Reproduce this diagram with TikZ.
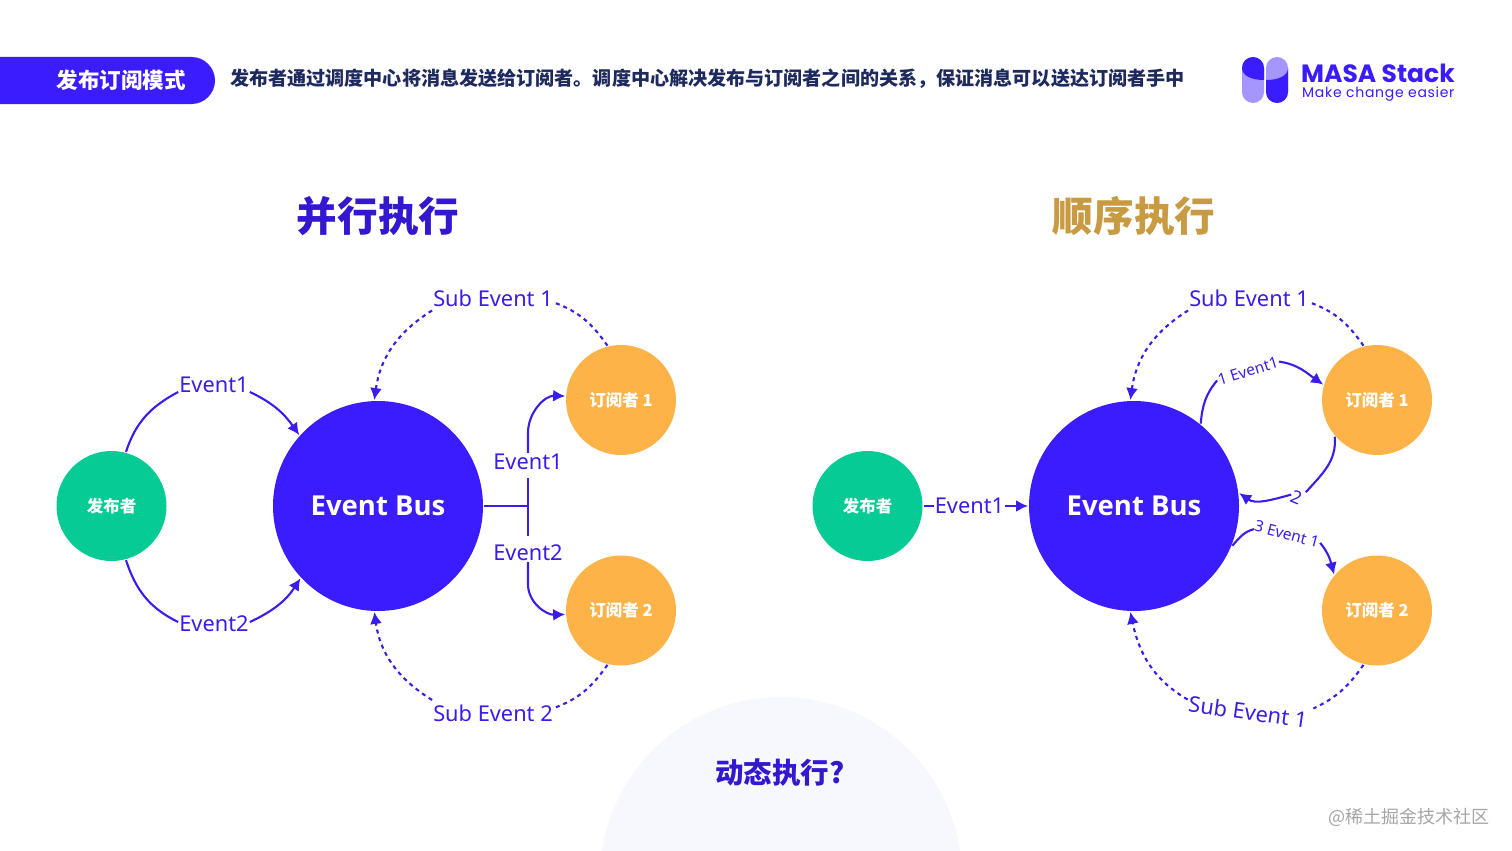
\documentclass[tikz,border=0pt]{standalone}
\usepackage{fontspec}
\setmainfont{Noto Sans}
\newfontfamily\cjk{Noto Sans CJK SC}
\newfontfamily\logofont{Poppins}
\newfontfamily\logotagfont[LetterSpace=5]{Poppins}
\newfontfamily\busfont{Open Sans}
\usetikzlibrary{arrows.meta}
\definecolor{busblue}{HTML}{3A1CFF}
\definecolor{lineblue}{HTML}{3A1CEB}
\definecolor{pubgreen}{HTML}{06CB94}
\definecolor{suborange}{HTML}{FDB347}
\definecolor{titleblue}{HTML}{3318CF}
\definecolor{titlegold}{HTML}{C89A42}
\definecolor{navy}{HTML}{1E2A5E}
\definecolor{paleback}{HTML}{F6F8FD}
\definecolor{logolight}{HTML}{A595FF}
\tikzset{
  x=1pt,y=-1pt,
  busnode/.style={circle,fill=busblue,minimum size=210pt,inner sep=0pt,outer sep=1pt,text=white,font=\busfont\fontsize{27.5}{30}\selectfont\bfseries},
  pubnode/.style={circle,fill=pubgreen,minimum size=110pt,inner sep=0pt,outer sep=1pt,text=white,font=\cjk\fontsize{16.5}{18}\selectfont\bfseries},
  subnode/.style={circle,fill=suborange,minimum size=110pt,inner sep=0pt,outer sep=1pt,text=white,font=\cjk\fontsize{16.5}{18}\selectfont\bfseries},
  lbl/.style={text=lineblue,inner sep=1pt,font=\fontsize{21.8}{24}\selectfont},
  smalllbl/.style={text=lineblue,inner sep=1pt,font=\fontsize{15.5}{17}\selectfont},
  conn/.style={draw=lineblue,line width=2.1pt},
  arr/.style={conn,-{Latex[length=12pt,width=12pt]}},
  dashconn/.style={conn,dash pattern=on 4pt off 4pt},
  dasharr/.style={arr,dash pattern=on 4pt off 4pt},
  titletext/.style={font=\cjk\fontsize{40.6}{42}\selectfont\bfseries},
}
\begin{document}
\begin{tikzpicture}
\useasboundingbox (0,0) rectangle (1512,851);
\fill[white] (0,0) rectangle (1512,851);
% bottom pale disc
\begin{scope}
\clip (0,0) rectangle (1512,851);
\fill[paleback] (781,878) circle[radius=181];
\end{scope}
% banner
\fill[busblue] (0,57) -- (191.5,57) arc[start angle=-90,end angle=90,radius=23.5] -- (0,104) -- cycle;
\node[text=white,font=\cjk\fontsize{21.5}{23}\selectfont\bfseries] (banner) at (121,80) {发布订阅模式};
\node[text=navy,anchor=west,inner sep=0pt,font=\cjk\fontsize{19.09}{22}\selectfont\bfseries] (desc) at (230,79) {发布者通过调度中心将消息发送给订阅者。调度中心解决发布与订阅者之间的关系，保证消息可以送达订阅者手中};
% logo
\fill[logolight] (1242,68) arc[start angle=180,end angle=360,radius=11] -- (1264,92) arc[start angle=0,end angle=180,radius=11] -- cycle;
\fill[logolight] (1266,68) arc[start angle=180,end angle=360,radius=11] -- (1288,92) arc[start angle=0,end angle=180,radius=11] -- cycle;
\fill[busblue] (1242,68) arc[start angle=180,end angle=360,radius=11] -- (1264,80) .. controls (1252,80) and (1242,76) .. (1242,68) -- cycle;
\fill[busblue] (1266,80) .. controls (1278,80) and (1288,76) .. (1288,68) -- (1288,92) arc[start angle=0,end angle=180,radius=11] -- cycle;
\node[text=busblue,anchor=west,inner sep=0pt,font=\logofont\fontsize{25}{27}\selectfont\bfseries] (logoname) at (1301,73.5) {MASA Stack};
\node[text=busblue,anchor=west,inner sep=0pt,font=\logotagfont\fontsize{14}{16}\selectfont] (logotag) at (1302,94) {Make change easier};
% titles
\node[titletext,text=titleblue] (t1) at (378,216) {并行执行};
\node[titletext,text=titlegold] (t2) at (1134,216) {顺序执行};
\node[text=titleblue,font=\cjk\fontsize{28.5}{30}\selectfont\bfseries] (t3) at (780,773) {动态执行?};
\node[text=black!35,font=\cjk\fontsize{18}{20}\selectfont] (wm) at (1408.5,817) {@稀土掘金技术社区};

% left diagram
\node[busnode] (bus) at (378,506) {Event Bus};
\node[pubnode] (pub) at (111.5,506) {发布者};
\node[subnode] (s1) at (621,400) {订阅者 1};
\node[subnode] (s2) at (621,610.5) {订阅者 2};
\node[lbl] (le1) at (214,385) {Event1};
\node[lbl] (le2) at (214,624) {Event2};
\node[lbl] (ls1) at (493,298.5) {Sub Event 1};
\node[lbl] (ls2) at (493,713) {Sub Event 2};
\node[lbl] (lr1) at (528,462) {Event1};
\node[lbl] (lr2) at (528,553) {Event2};
\coordinate (fork) at (528,506);
\coordinate (forkt) at (528,478);
\coordinate (forkb) at (528,536);
\draw[conn] (pub.75) to[out=72,in=208] ([yshift=-7pt]le1.west);
\draw[arr] ([yshift=-7pt]le1.east) to[out=-25,in=125] (bus.138);
\draw[conn] (pub.-75) to[out=-72,in=154] ([yshift=2pt]le2.west);
\draw[arr] ([yshift=2pt]le2.east) to[out=25,in=-123] (bus.-137);
\draw[dashconn] (s1.104) to[out=125,in=-20] ([yshift=-4pt]ls1.east);
\draw[dasharr] ([yshift=-12pt]ls1.west) to[out=212,in=82] (bus.92);
\draw[dashconn] (s2.-104) to[out=-125,in=20] ([yshift=5pt]ls2.east);
\draw[dasharr] ([yshift=13pt]ls2.west) to[out=148,in=-82] (bus.-92);
\draw[conn] (bus.east) -- (fork);
\draw[conn] (forkt) -- (forkb);
\draw[arr] (lr1.north) -- ++(0,-20) to[out=90,in=178] (s1.176);
\draw[arr] (lr2.south) -- ++(0,22) to[out=-90,in=182] (s2.184);

% right diagram
\node[busnode] (busb) at (1134,506) {Event Bus};
\node[pubnode] (pubb) at (867.5,506) {发布者};
\node[subnode] (sb1) at (1377,400) {订阅者 1};
\node[subnode] (sb2) at (1377,610.5) {订阅者 2};
\node[lbl] (re1) at (969.5,506) {Event1};
\node[lbl] (rs1) at (1249,298.5) {Sub Event 1};
\node[lbl,rotate=-8] (rs2) at (1248,712) {Sub Event 1};
\node[smalllbl,rotate=17] (rq1) at (1248,371) {1 Event1};
\node[smalllbl,rotate=-22,font=\fontsize{18}{20}\selectfont] (rq2) at (1297,497) {2};
\node[smalllbl,rotate=-15] (rq3) at (1287,534) {3 Event 1};
\draw[conn] (pubb.east) -- (re1.west);
\draw[arr] (re1.east) -- (busb.west);
\draw[dashconn] (sb1.104) to[out=125,in=-20] ([yshift=-4pt]rs1.east);
\draw[dasharr] ([yshift=-12pt]rs1.west) to[out=212,in=82] (busb.92);
\draw[dashconn] (sb2.-104) to[out=-125,in=25] ([shift={(5pt,12pt)}]rs2.east);
\draw[dasharr] ([yshift=4pt]rs2.west) to[out=150,in=-78] (busb.-92);
\draw[conn] (busb.51) to[out=85,in=-130] (rq1.west);
\draw[arr] (rq1.east) to[out=-8,in=145] (sb1.164);
\draw[conn] (sb1.221) to[out=-85,in=48] (rq2.north east);
\draw[arr] (rq2.west) to[out=195,in=-35] (busb.7);
\draw[conn] (busb.-22) to[out=48,in=195] ([yshift=-4pt]rq3.west);
\draw[arr] (rq3.east) to[out=-50,in=105] (sb2.140);
\end{tikzpicture}
\end{document}
